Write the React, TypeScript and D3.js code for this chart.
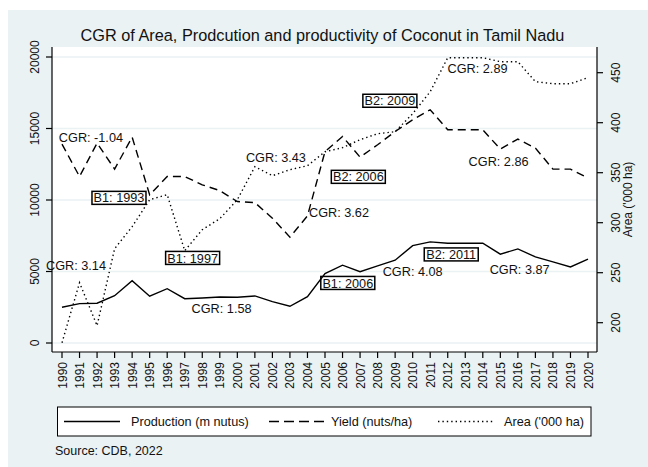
import * as d3 from "d3";

const years = d3.range(1990, 2021);
const production = [2500, 2750, 2780, 3310, 4360, 3270, 3800, 3100, 3150, 3220, 3200, 3290, 2890, 2570, 3240, 4860, 5440, 4990, 5390, 5790, 6810, 7070, 6980, 6980, 6980, 6210, 6580, 6020, 5670, 5320, 5860];
const yieldVals = [13910, 11640, 13980, 12160, 14400, 10360, 11640, 11640, 11060, 10660, 9890, 9820, 8730, 7400, 8890, 13390, 14440, 13000, 13860, 14790, 15610, 16310, 14910, 14910, 14910, 13560, 14260, 13630, 12160, 12160, 11530];
const area = [180, 240, 197, 274, 296, 323, 328, 272, 293, 304, 323, 356, 347, 353, 357, 371, 375, 383, 389, 391, 409, 431, 465, 465, 465, 461, 461, 441, 439, 439, 445];
const leftTicks = [0, 5000, 10000, 15000, 20000];
const rightTicks = [200, 250, 300, 350, 400, 450];

// CGR labels: [text, year position, value on left axis]
const cgrLabels: [string, number, number][] = [
  ["CGR: -1.04", 1991.65, 14090],
  ["CGR: 3.14", 1990.8, 5100],
  ["CGR: 1.58", 1999.1, 2100],
  ["CGR: 3.43", 2002.2, 12670],
  ["CGR: 3.62", 2005.8, 8820],
  ["CGR: 4.08", 2010.0, 4690],
  ["CGR: 2.89", 2013.7, 18900],
  ["CGR: 2.86", 2014.9, 12390],
  ["CGR: 3.87", 2016.1, 4830],
];
// break point boxes, same layout
const breakLabels: [string, number, number][] = [
  ["B1: 1993", 1993.25, 10150],
  ["B1: 1997", 1997.45, 5950],
  ["B1: 2006", 2006.3, 4200],
  ["B2: 2006", 2006.9, 11620],
  ["B2: 2009", 2008.7, 16940],
  ["B2: 2011", 2012.2, 6195],
];

const W = 648;
const H = 467;
const plot = { left: 52, right: 597, top: 47, bottom: 352 };
const font = "'Liberation Sans', Arial, Helvetica, sans-serif";
const bg = "#eaf2f3";
const ink = "#111";

export default function App() {
  const x = d3.scaleLinear().domain([1990, 2020]).range([62, 588]);
  const yL = d3.scaleLinear().domain([0, 20000]).range([343, 57]);
  const yR = d3.scaleLinear().domain([200, 450]).range([322.7, 72.7]);

  const lineL = d3.line<number>().x((_, i) => x(years[i])).y(d => yL(d));
  const lineR = d3.line<number>().x((_, i) => x(years[i])).y(d => yR(d));

  return (
    <svg width={W} height={H} style={{ position: "absolute", left: 0, top: 0 }} fontFamily={font}>
      <rect x={0} y={0} width={W} height={H} fill="#fff" />
      <rect x={8} y={10} width={W - 8} height={H - 10} fill={bg} />
      <rect x={plot.left} y={plot.top} width={plot.right - plot.left} height={plot.bottom - plot.top} fill="#fff" />

      {/* gridlines */}
      {leftTicks.map(t => (
        <line key={t} x1={plot.left} x2={plot.right} y1={yL(t)} y2={yL(t)} stroke={bg} strokeWidth={1.5} />
      ))}

      {/* title */}
      <text x={(plot.left + plot.right) / 2 - 2} y={40.5} textAnchor="middle" fontSize={16.3} fill={ink}>
        CGR of Area, Prodcution and productivity of Coconut in Tamil Nadu
      </text>

      {/* break boxes */}
      {breakLabels.map(([t, yr, v]) => (
        <g key={t} transform={`translate(${x(yr)},${yL(v)})`}>
          <rect x={-27} y={-6.5} width={54} height={13} fill="#fff" stroke="#000" strokeWidth={1.5} />
          <text x={0} y={4.6} textAnchor="middle" fontSize={12.7} fill={ink}>{t}</text>
        </g>
      ))}

      {/* series */}
      <path d={lineL(production) || ""} fill="none" stroke="#000" strokeWidth={1.4} />
      <path d={lineL(yieldVals) || ""} fill="none" stroke="#000" strokeWidth={1.4} strokeDasharray="8,5" />
      <path d={lineR(area) || ""} fill="none" stroke="#000" strokeWidth={1.4} strokeDasharray="1.4,3" />

      {/* CGR labels */}
      {cgrLabels.map(([t, yr, v]) => (
        <text key={t} x={x(yr)} y={yL(v)} textAnchor="middle" fontSize={12.7} fill={ink}>{t}</text>
      ))}

      {/* axes */}
      <line x1={plot.left} x2={plot.left} y1={plot.top} y2={plot.bottom} stroke="#000" strokeWidth={1.2} />
      <line x1={plot.right} x2={plot.right} y1={plot.top} y2={plot.bottom} stroke="#000" strokeWidth={1.2} />
      <line x1={plot.left} x2={plot.right} y1={plot.bottom} y2={plot.bottom} stroke="#000" strokeWidth={1.2} />

      {leftTicks.map(t => (
        <g key={t}>
          <line x1={plot.left - 6} x2={plot.left} y1={yL(t)} y2={yL(t)} stroke="#000" strokeWidth={1.2} />
          <text transform={`translate(${plot.left - 13},${yL(t)}) rotate(-90)`} textAnchor="middle" fontSize={12} fill={ink}>{t}</text>
        </g>
      ))}
      {rightTicks.map(t => (
        <g key={t}>
          <line x1={plot.right} x2={plot.right + 6} y1={yR(t)} y2={yR(t)} stroke="#000" strokeWidth={1.2} />
          <text transform={`translate(${plot.right + 23},${yR(t)}) rotate(-90)`} textAnchor="middle" fontSize={12} fill={ink}>{t}</text>
        </g>
      ))}
      <text transform={`translate(${plot.right + 35},${(plot.top + plot.bottom) / 2}) rotate(-90)`} textAnchor="middle" fontSize={12} fill={ink}>
        Area ('000 ha)
      </text>
      {years.map(yr => (
        <g key={yr}>
          <line x1={x(yr)} x2={x(yr)} y1={plot.bottom} y2={plot.bottom + 6} stroke="#000" strokeWidth={1.2} />
          <text transform={`translate(${x(yr) + 4.5},${plot.bottom + 10}) rotate(-90)`} textAnchor="end" fontSize={12} fill={ink}>{yr}</text>
        </g>
      ))}

      {/* legend */}
      <rect x={57.5} y={407} width={533.5} height={29} fill="#fff" stroke="#000" strokeWidth={1} />
      <line x1={64} x2={120} y1={421.5} y2={421.5} stroke="#000" strokeWidth={1.4} />
      <text x={131} y={426} fontSize={12.7} fill={ink}>Production (m nutus)</text>
      <line x1={269} x2={326} y1={421.5} y2={421.5} stroke="#000" strokeWidth={1.4} strokeDasharray="10,5" />
      <text x={331} y={426} fontSize={12.7} fill={ink}>Yield (nuts/ha)</text>
      <line x1={438} x2={494} y1={421.5} y2={421.5} stroke="#000" strokeWidth={1.4} strokeDasharray="1.4,3" />
      <text x={504} y={426} fontSize={12.7} fill={ink}>Area ('000 ha)</text>

      <text x={55} y={455} fontSize={12.5} fill={ink}>Source: CDB, 2022</text>
    </svg>
  );
}
